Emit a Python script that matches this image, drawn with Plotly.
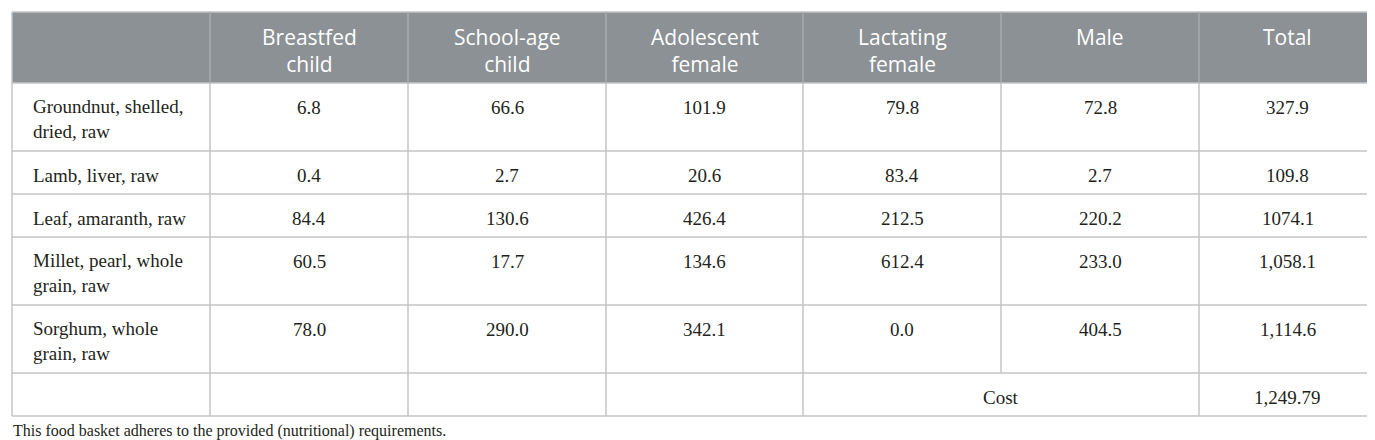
import plotly.graph_objects as go

# ---------------- data ----------------
header_labels = ["", "Breastfed<br>child", "School-age<br>child", "Adolescent<br>female",
                 "Lactating<br>female", "Male", "Total"]
food_items = ["Groundnut, shelled,<br>dried, raw", "Lamb, liver, raw", "Leaf, amaranth, raw",
              "Millet, pearl, whole<br>grain, raw", "Sorghum, whole<br>grain, raw"]
breastfed_child = [6.8, 0.4, 84.4, 60.5, 78.0]
school_age_child = [66.6, 2.7, 130.6, 17.7, 290.0]
adolescent_female = [101.9, 20.6, 426.4, 134.6, 342.1]
lactating_female = [79.8, 83.4, 212.5, 612.4, 0.0]
male = [72.8, 2.7, 220.2, 233.0, 404.5]
total = ["327.9", "109.8", "1074.1", "1,058.1", "1,114.6"]
cost_label = "Cost"
cost_value = "1,249.79"
caption = "This food basket adheres to the provided (nutritional) requirements."

# ---------------- layout constants ----------------
W, H = 1375, 440
col_edges = [4, 202, 400, 598, 795, 993, 1191, 1368]
top = 4
header_h = 71
line_h = 25
row_pad = 18
first_line_off = 24
header_first_off = 25
header_line_h = 27.3
grid_color = "#c4c4c4"
header_fill = "#8b9194"
header_sep = "#a9adb0"
body_font = dict(family="Liberation Serif", size=19, color="#231f20")
head_font = dict(family="Open Sans", size=21, color="#ffffff")

value_cols = [breastfed_child, school_age_child, adolescent_female, lactating_female, male]

def fmt(v):
    return f"{v:.1f}"

rows = []
for i, item in enumerate(food_items):
    rows.append([item] + [fmt(c[i]) for c in value_cols] + [total[i]])

row_tops = [top + header_h]
for r in rows:
    n = max(len(c.split("<br>")) for c in r)
    row_tops.append(row_tops[-1] + row_pad + line_h * n)
cost_top = row_tops[-1]
bottom = cost_top + row_pad + line_h

shapes = []
annotations = []

shapes.append(dict(type="rect", xref="x", yref="y", x0=col_edges[0], x1=col_edges[-1],
                   y0=top, y1=top + header_h, fillcolor=header_fill, line=dict(width=0), layer="below"))

for y in [top, top + header_h] + row_tops[1:] + [bottom]:
    shapes.append(dict(type="line", xref="x", yref="y", x0=col_edges[0], x1=col_edges[-1],
                       y0=y, y1=y, line=dict(color=grid_color, width=1.5)))
for j, x in enumerate(col_edges):
    c = header_sep if 0 < j < len(col_edges) - 1 else grid_color
    shapes.append(dict(type="line", xref="x", yref="y", x0=x, x1=x, y0=top, y1=top + header_h,
                       line=dict(color=c, width=1.5)))
    y_end = cost_top if j == 5 else bottom
    shapes.append(dict(type="line", xref="x", yref="y", x0=x, x1=x, y0=top + header_h, y1=y_end,
                       line=dict(color=grid_color, width=1.5)))

def add_text(text, x, y_first, font, align, lh):
    n = len(text.split("<br>"))
    annotations.append(dict(xref="x", yref="y", x=x, y=y_first + (n - 1) * lh / 2, text=text,
                            showarrow=False, font=font, xanchor=align, yanchor="middle",
                            align=align))

for j, lab in enumerate(header_labels):
    if lab:
        cx = (col_edges[j] + col_edges[j + 1]) / 2
        add_text(lab, cx, top + header_first_off, head_font, "center", header_line_h)

for i, r in enumerate(rows):
    y0 = row_tops[i] + first_line_off
    for j, cell in enumerate(r):
        if j == 0:
            add_text(cell, col_edges[0] + 19, y0, body_font, "left", body_font["size"] * 1.3)
        else:
            add_text(cell, (col_edges[j] + col_edges[j + 1]) / 2, y0, body_font, "center",
                     body_font["size"] * 1.3)

add_text(cost_label, (col_edges[4] + col_edges[6]) / 2, cost_top + first_line_off, body_font, "center", 0)
add_text(cost_value, (col_edges[6] + col_edges[7]) / 2, cost_top + first_line_off, body_font, "center", 0)

annotations.append(dict(xref="x", yref="y", x=col_edges[0], y=bottom + 15, text=caption,
                        showarrow=False, font=dict(family="Liberation Serif", size=16, color="#231f20"),
                        xanchor="left", yanchor="middle", borderpad=0))

fig = go.Figure()
fig.add_trace(go.Scatter(x=[0, W], y=[0, H], mode="markers", marker=dict(opacity=0), hoverinfo="skip",
                         showlegend=False))
fig.update_layout(width=W, height=H, margin=dict(l=0, r=0, t=0, b=0),
                  paper_bgcolor="white", plot_bgcolor="white",
                  xaxis=dict(range=[0, W], visible=False, fixedrange=True),
                  yaxis=dict(range=[H, 0], visible=False, fixedrange=True),
                  shapes=shapes, annotations=annotations, showlegend=False)
fig.write_html("out.html")
